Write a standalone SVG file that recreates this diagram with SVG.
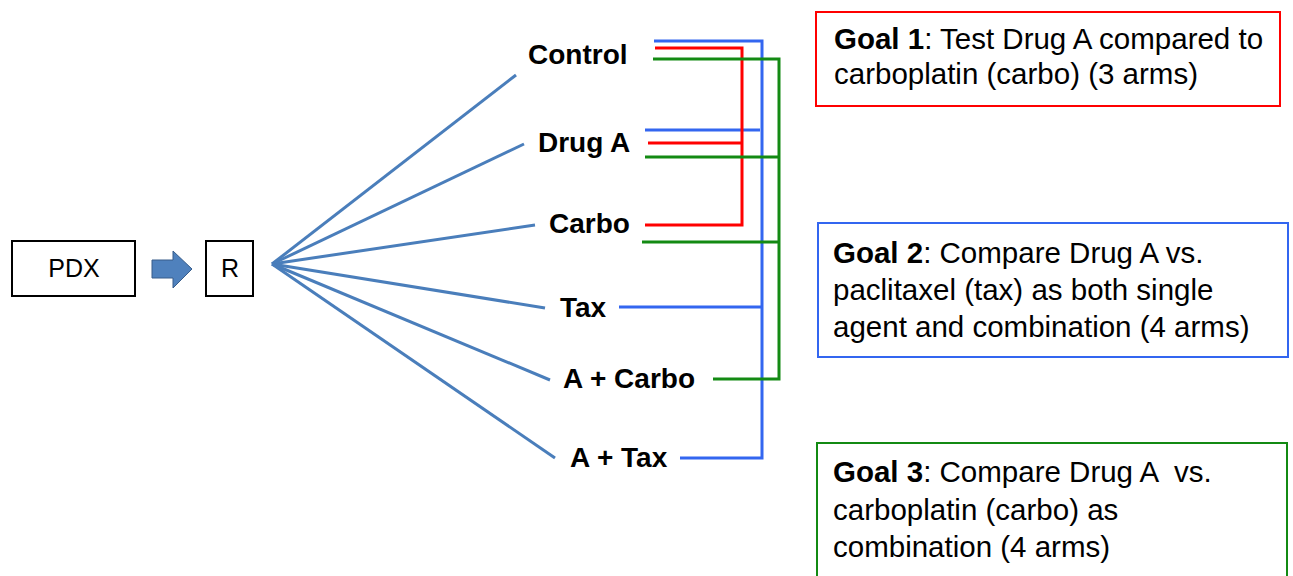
<svg xmlns="http://www.w3.org/2000/svg" width="1293" height="576" viewBox="0 0 1293 576">
<style>
.box{fill:#fff;stroke:#000;stroke-width:2}
.lbl{font-family:"Liberation Sans",Arial,sans-serif;font-size:28px;font-weight:bold;fill:#000}
.txt{font-family:"Liberation Sans",Arial,sans-serif;font-size:25px;fill:#000}
.goal{font-family:"Liberation Sans",Arial,sans-serif;font-size:29.5px;fill:#000;white-space:pre}
.goal .b{font-weight:bold}
.fan{stroke:#4A7EBB;stroke-width:3;fill:none}
.bl{stroke:#3366F0;stroke-width:3;fill:none}
.rd{stroke:#FF0000;stroke-width:3;fill:none}
.gr{stroke:#138A13;stroke-width:3;fill:none}
</style>
<rect width="1293" height="576" fill="#fff"/>
<g id="pdx">
<rect class="box" x="12" y="241" width="123" height="55"/>
<text class="txt" x="74" y="277" text-anchor="middle">PDX</text>
</g>
<g id="arrow-pdx-r">
<polygon points="152,260 173,260 173,251 192,269 173,288 173,278 152,278" fill="#4F81BD" stroke="#385D8A" stroke-width="1"/>
</g>
<g id="r">
<rect class="box" x="206" y="241" width="47" height="55"/>
<text class="txt" x="230" y="277" text-anchor="middle">R</text>
</g>
<g id="fan">
<line class="fan" x1="272" y1="264" x2="516" y2="75"/>
<line class="fan" x1="272" y1="264" x2="524" y2="144"/>
<line class="fan" x1="272" y1="264" x2="535" y2="225"/>
<line class="fan" x1="272" y1="264" x2="545" y2="308"/>
<line class="fan" x1="272" y1="264" x2="550" y2="380"/>
<line class="fan" x1="272" y1="264" x2="555" y2="458"/>
</g>
<g id="arm-control"><text class="lbl" x="528" y="64">Control</text></g>
<g id="arm-druga"><text class="lbl" x="538" y="152">Drug A</text></g>
<g id="arm-carbo"><text class="lbl" x="549" y="233">Carbo</text></g>
<g id="arm-tax"><text class="lbl" x="560" y="317">Tax</text></g>
<g id="arm-acarbo"><text class="lbl" x="563" y="388">A + Carbo</text></g>
<g id="arm-atax"><text class="lbl" x="570" y="467">A + Tax</text></g>
<g id="connectors">
<path class="bl" d="M654,41 H762 V458 H680"/>
<path class="bl" d="M645,130 H760"/>
<path class="bl" d="M619,307 H762"/>
<path class="rd" d="M655,48 H742 V225 H645"/>
<path class="rd" d="M648,143 H742"/>
<path class="gr" d="M653,59 H779 V379 H713"/>
<path class="gr" d="M645,157 H779"/>
<path class="gr" d="M642,242 H779"/>
</g>
<g id="goal1">
<rect x="816" y="12" width="464" height="94" fill="#fff" stroke="#FF0000" stroke-width="2"/>
<text class="goal" x="834" y="49"><tspan class="b">Goal 1</tspan>: Test Drug A compared to</text>
<text class="goal" x="834" y="84">carboplatin (carbo) (3 arms)</text>
</g>
<g id="goal2">
<rect x="818" y="223" width="470" height="134" fill="#fff" stroke="#3366F0" stroke-width="2"/>
<text class="goal" x="833" y="263"><tspan class="b">Goal 2</tspan>: Compare Drug A vs.</text>
<text class="goal" x="833" y="300">paclitaxel (tax) as both single</text>
<text class="goal" x="833" y="337">agent and combination (4 arms)</text>
</g>
<g id="goal3">
<rect x="817" y="443" width="470" height="150" fill="#fff" stroke="#138A13" stroke-width="2"/>
<text class="goal" x="833" y="482"><tspan class="b">Goal 3</tspan>: Compare Drug A  vs.</text>
<text class="goal" x="833" y="520">carboplatin (carbo) as</text>
<text class="goal" x="833" y="557">combination (4 arms)</text>
</g>
</svg>
